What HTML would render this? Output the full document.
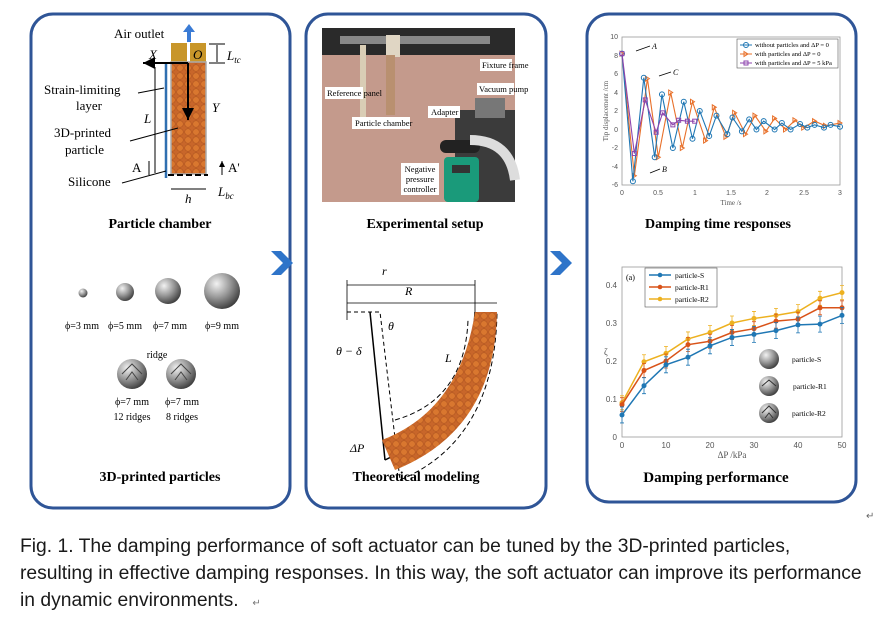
<!DOCTYPE html>
<html><head><meta charset="utf-8"><style>
body{margin:0;background:#fff;width:884px;height:622px;overflow:hidden;font-family:"Liberation Serif",serif}
svg{position:absolute;left:0;top:0}
.cap{position:absolute;left:20px;top:533px;font-family:"Liberation Sans",sans-serif;font-size:19.3px;line-height:27px;color:#1a1a1a;width:880px;white-space:nowrap}
</style></head><body>
<svg width="884" height="622" viewBox="0 0 884 622" font-family="Liberation Serif, serif">
<defs>
<radialGradient id="sph" cx="0.35" cy="0.3" r="0.75"><stop offset="0" stop-color="#f2f2f2"/><stop offset="0.5" stop-color="#9a9a9a"/><stop offset="1" stop-color="#3a3a3a"/></radialGradient>
<pattern id="dots" width="8" height="8" patternUnits="userSpaceOnUse"><rect width="8" height="8" fill="#c8662a"/><circle cx="4" cy="4" r="3.3" fill="#d9772f" stroke="#b0551f" stroke-width="0.6"/></pattern>
<marker id="ar" markerWidth="8" markerHeight="8" refX="6" refY="3" orient="auto"><path d="M0,0 L6,3 L0,6z" fill="#000"/></marker>
</defs>
<g fill="none" stroke="#2f5597" stroke-width="3">
<rect x="31" y="14" width="259" height="494" rx="22"/>
<rect x="306" y="14" width="240" height="494" rx="22"/>
<rect x="587" y="14" width="269" height="488" rx="22"/>
</g>
<path d="M271,251 h10 l12,12 l-12,12 h-10 l12,-12z" fill="#2e74c9"/>
<path d="M550,251 h10 l12,12 l-12,12 h-10 l12,-12z" fill="#2e74c9"/>

<text x="114" y="38" font-size="13">Air outlet</text>
<path d="M187,42 v-10 h-4 l6,-8 l6,8 h-4 v10z" fill="#3a7bd5"/>
<rect x="171" y="43" width="16" height="19" fill="#c8962a"/>
<rect x="190" y="43" width="16" height="19" fill="#c8962a"/>
<rect x="171" y="62" width="35" height="112" fill="url(#dots)" stroke="#aaa" stroke-width="1.5"/>
<line x1="166" y1="62" x2="166" y2="178" stroke="#2f6fb0" stroke-width="2.5"/>
<line x1="168" y1="175" x2="208" y2="175" stroke="#000" stroke-width="2" stroke-dasharray="6,3"/>
<text x="149" y="59" font-size="13" font-style="italic">X</text>
<text x="193" y="59" font-size="13" font-style="italic">O</text>
<path d="M188,63 H143" stroke="#000" stroke-width="2" marker-end="url(#ar)"/>
<path d="M188,63 V120" stroke="#000" stroke-width="2" marker-end="url(#ar)"/>
<text x="212" y="112" font-size="13" font-style="italic">Y</text>
<text x="227" y="60" font-size="13" font-style="italic">L<tspan font-size="9" dy="3">tc</tspan></text>
<line x1="209" y1="44" x2="225" y2="44" stroke="#000"/><line x1="209" y1="63" x2="225" y2="63" stroke="#000"/>
<line x1="217" y1="45" x2="217" y2="62" stroke="#000"/>
<line x1="155" y1="67" x2="155" y2="173" stroke="#000"/>
<text x="144" y="123" font-size="13" font-style="italic">L</text>
<text x="44" y="94" font-size="13">Strain-limiting</text>
<text x="76" y="110" font-size="13">layer</text>
<line x1="138" y1="93" x2="164" y2="88" stroke="#000"/>
<text x="54" y="137" font-size="13">3D-printed</text>
<text x="65" y="154" font-size="13">particle</text>
<line x1="130" y1="141" x2="178" y2="128" stroke="#000"/>
<text x="132" y="172" font-size="13">A</text>
<text x="228" y="172" font-size="13">A'</text>
<path d="M149,175 v-14 M222,175 v-14" stroke="#000" marker-end="url(#ar)"/>
<text x="68" y="186" font-size="13">Silicone</text>
<line x1="122" y1="183" x2="166" y2="171" stroke="#000"/>
<line x1="171" y1="189" x2="206" y2="189" stroke="#000"/>
<text x="185" y="203" font-size="13" font-style="italic">h</text>
<text x="218" y="196" font-size="13" font-style="italic">L<tspan font-size="9" dy="3">bc</tspan></text>
<text x="160" y="228" font-size="14" font-weight="bold" text-anchor="middle">Particle chamber</text>
<circle cx="83" cy="293" r="4.5" fill="url(#sph)"/>
<circle cx="125" cy="292" r="9" fill="url(#sph)"/>
<circle cx="168" cy="291" r="13" fill="url(#sph)"/>
<circle cx="222" cy="291" r="18" fill="url(#sph)"/>
<g font-size="10" text-anchor="middle"><text x="82" y="329">ϕ=3 mm</text><text x="125" y="329">ϕ=5 mm</text><text x="170" y="329">ϕ=7 mm</text><text x="222" y="329">ϕ=9 mm</text>
<text x="157" y="358">ridge</text>
<text x="132" y="405">ϕ=7 mm</text><text x="182" y="405">ϕ=7 mm</text>
<text x="132" y="420">12 ridges</text><text x="182" y="420">8 ridges</text></g>
<circle cx="132" cy="374" r="15" fill="url(#sph)"/><circle cx="181" cy="374" r="15" fill="url(#sph)"/>
<path d="M122,374 l10,-10 l10,10 M126,380 l6,-8 l6,8 M171,374 l10,-10 l10,10 M175,380 l6,-8 l6,8" stroke="#444" fill="none"/>
<text x="160" y="481" font-size="14" font-weight="bold" text-anchor="middle">3D-printed particles</text>

<rect x="322" y="28" width="193" height="174" fill="#c49a8c"/>
<rect x="322" y="28" width="193" height="27" fill="#2a2a2a"/>
<rect x="340" y="36" width="150" height="8" fill="#888"/>
<rect x="386" y="35" width="14" height="22" fill="#e0d6c4"/>
<rect x="386" y="55" width="9" height="60" fill="#b99070"/>
<rect x="360" y="45" width="6" height="82" fill="#d9cdb5"/>
<rect x="455" y="110" width="60" height="92" fill="#3b3b3b"/>
<rect x="440" y="140" width="40" height="13" rx="6" fill="#222"/>
<path d="M470,140 q40,0 45,40" stroke="#ddd" stroke-width="10" fill="none"/>
<rect x="444" y="157" width="35" height="45" rx="4" fill="#1a9a7a"/>
<rect x="452" y="165" width="18" height="8" fill="#333"/>
<rect x="475" y="98" width="30" height="20" fill="#777"/>
<g font-size="8.5"><rect x="480" y="59" width="32" height="12" fill="#fff"/><text x="482" y="68">Fixture frame</text>
<rect x="477" y="83" width="37" height="12" fill="#fff"/><text x="479" y="92">Vacuum pump</text>
<rect x="325" y="87" width="38" height="12" fill="#fff"/><text x="327" y="96">Reference panel</text>
<rect x="428" y="106" width="32" height="12" fill="#fff"/><text x="431" y="115">Adapter</text>
<rect x="352" y="117" width="58" height="12" fill="#fff"/><text x="355" y="126">Particle chamber</text>
<rect x="401" y="163" width="38" height="32" fill="#fff"/><text x="420" y="172" text-anchor="middle">Negative</text><text x="420" y="182" text-anchor="middle">pressure</text><text x="420" y="192" text-anchor="middle">controller</text></g>
<text x="425" y="228" font-size="14" font-weight="bold" text-anchor="middle">Experimental setup</text>

<g stroke="#000" fill="none">
<line x1="347" y1="285" x2="475" y2="285" stroke-width="0.8"/>
<line x1="347" y1="303" x2="497" y2="303" stroke-width="0.8"/>
<line x1="347" y1="280" x2="347" y2="320" stroke-width="0.8"/>
<line x1="475" y1="280" x2="475" y2="312" stroke-width="0.8"/>
<path d="M347,312 L380,312 L400,480" stroke-dasharray="4,3"/>
<path d="M370,312 L385,460" stroke-width="1.5"/>
<path d="M385,460 Q470,420 475,312" stroke-width="1.5"/>
<path d="M400,480 Q495,440 497,312" stroke-dasharray="5,3"/>
<path d="M395,420 Q465,400 468,320" stroke-dasharray="5,3"/>
</g>
<path d="M382,440 Q460,410 475,312 L497,312 Q495,430 395,470z" fill="url(#dots)"/>
<text x="382" y="275" font-size="12" font-style="italic">r</text>
<text x="405" y="295" font-size="12" font-style="italic">R</text>
<text x="388" y="330" font-size="12" font-style="italic">θ</text>
<text x="336" y="355" font-size="12" font-style="italic">θ − δ</text>
<text x="445" y="362" font-size="12" font-style="italic">L</text>
<text x="350" y="452" font-size="12" font-style="italic">ΔP</text>
<text x="416" y="481" font-size="14" font-weight="bold" text-anchor="middle">Theoretical modeling</text>

<rect x="622" y="37" width="218" height="148" fill="none" stroke="#999" stroke-width="0.8"/>
<g font-family="Liberation Sans, sans-serif" font-size="7" fill="#555">
<g text-anchor="end"><text x="618" y="39">10</text><text x="618" y="58">8</text><text x="618" y="76">6</text><text x="618" y="95">4</text><text x="618" y="113">2</text><text x="618" y="132">0</text><text x="618" y="150">-2</text><text x="618" y="169">-4</text><text x="618" y="187">-6</text></g>
<g text-anchor="middle"><text x="622" y="195">0</text><text x="658" y="195">0.5</text><text x="695" y="195">1</text><text x="731" y="195">1.5</text><text x="767" y="195">2</text><text x="804" y="195">2.5</text><text x="840" y="195">3</text></g>
<text x="731" y="205" text-anchor="middle" font-family="Liberation Serif,serif">Time /s</text>
<text transform="translate(608,111) rotate(-90)" text-anchor="middle" font-family="Liberation Serif,serif">Tip displacement /cm</text>
</g>
<g id="tc"></g>
<rect x="737" y="39" width="101" height="29" fill="#fff" stroke="#555" stroke-width="0.6"/>
<g font-size="6.5"><line x1="740" y1="45" x2="752" y2="45" stroke="#1f77b4"/><circle cx="746" cy="45" r="2.5" fill="none" stroke="#1f77b4"/><text x="755" y="47">without particles and ΔP = 0</text>
<line x1="740" y1="54" x2="752" y2="54" stroke="#e8702a"/><path d="M744,51.5 l4,2.5 l-4,2.5z" fill="none" stroke="#e8702a"/><text x="755" y="56">with particles and ΔP = 0</text>
<line x1="740" y1="63" x2="752" y2="63" stroke="#8e44ad"/><rect x="744" y="61" width="4" height="4" fill="none" stroke="#8e44ad"/><text x="755" y="65">with particles and ΔP = 5 kPa</text></g>
<g font-size="8" font-style="italic"><text x="652" y="49">A</text><text x="673" y="75">C</text><text x="662" y="172">B</text></g>
<path d="M650,46 l-14,5 M671,72 l-12,4 M660,169 l-10,4" stroke="#000" stroke-width="0.8"/>
<text x="718" y="228" font-size="14" font-weight="bold" text-anchor="middle">Damping time responses</text>

<rect x="622" y="267" width="220" height="170" fill="none" stroke="#999" stroke-width="0.8"/>
<g font-family="Liberation Sans, sans-serif" font-size="8" fill="#555">
<g text-anchor="end"><text x="617" y="440">0</text><text x="617" y="402">0.1</text><text x="617" y="364">0.2</text><text x="617" y="326">0.3</text><text x="617" y="288">0.4</text></g>
<g text-anchor="middle"><text x="622" y="448">0</text><text x="666" y="448">10</text><text x="710" y="448">20</text><text x="754" y="448">30</text><text x="798" y="448">40</text><text x="842" y="448">50</text></g>
<text x="732" y="458" text-anchor="middle" font-family="Liberation Serif,serif" font-size="9">ΔP /kPa</text>
<text x="604" y="355" font-family="Liberation Serif,serif" font-size="9">ζ</text>
</g>
<g id="dp"></g>
<rect x="645" y="268" width="72" height="39" fill="#fff" stroke="#555" stroke-width="0.6"/>
<text x="626" y="280" font-size="8">(a)</text>
<g font-size="7.5"><line x1="649" y1="275" x2="671" y2="275" stroke="#1f77b4" stroke-width="1.5"/><circle cx="660" cy="275" r="2.3" fill="#1f77b4"/><text x="675" y="278">particle-S</text>
<line x1="649" y1="287" x2="671" y2="287" stroke="#d95319" stroke-width="1.5"/><circle cx="660" cy="287" r="2.3" fill="#d95319"/><text x="675" y="290">particle-R1</text>
<line x1="649" y1="299" x2="671" y2="299" stroke="#edb120" stroke-width="1.5"/><circle cx="660" cy="299" r="2.3" fill="#edb120"/><text x="675" y="302">particle-R2</text></g>
<circle cx="769" cy="359" r="10" fill="url(#sph)"/><circle cx="769" cy="386" r="10" fill="url(#sph)"/><circle cx="769" cy="413" r="10" fill="url(#sph)"/>
<path d="M762,386 l7,-6 l7,6 M762,413 l7,-7 l7,7 M765,418 l4,-5 l4,5" stroke="#333" fill="none"/>
<g font-size="7.5"><text x="792" y="362">particle-S</text><text x="793" y="389">particle-R1</text><text x="792" y="416">particle-R2</text></g>
<text x="716" y="482" font-size="15" font-weight="bold" text-anchor="middle">Damping performance</text>
<text x="866" y="519" font-size="10" fill="#666">↵</text>
</svg>
<div class="cap">Fig. 1. The damping performance of soft actuator can be tuned by the 3D-printed particles,<br>resulting in effective damping responses. In this way, the soft actuator can improve its performance<br>in dynamic environments. <span style="font-size:10px;color:#777">&nbsp;&nbsp;&nbsp;↵</span></div>
<script>
var NS="http://www.w3.org/2000/svg";
function el(p,t,a){var e=document.createElementNS(NS,t);for(var k in a)e.setAttribute(k,a[k]);p.appendChild(e);return e;}
var tc=document.getElementById("tc");
function X(t){return 622+t*72.67}function Y(v){return 129.5-v*9.25}
var B=[[0,8.2],[.15,-5.6],[.3,5.6],[.45,-3],[.55,3.8],[.7,-2],[.85,3],[.97,-1],[1.07,2],[1.2,-.7],[1.3,1.5],[1.45,-.5],[1.52,1.3],[1.65,-.2],[1.75,1.1],[1.85,0],[1.95,.9],[2.1,0],[2.2,.7],[2.32,0],[2.45,.6],[2.55,.2],[2.65,.5],[2.78,.2],[2.87,.5],[3,.3]];
var O=[[0,8.2],[.17,-5],[.35,5.5],[.5,-3],[.67,4],[.83,-2],[.97,3],[1.15,-1.2],[1.27,2.4],[1.43,-.8],[1.55,1.8],[1.7,-.5],[1.83,1.5],[1.98,-.2],[2.1,1.2],[2.25,0],[2.38,1],[2.5,.2],[2.65,.9],[2.8,.4],[3,.7]];
var P=[[0,8.2],[.17,-2.6],[.32,3.2],[.47,-.3],[.56,1.8],[.7,.5],[.78,1],[.9,.9],[1,.9]];
function ser(d,c,m){var s="";d.forEach(function(p,i){s+=(i?"L":"M")+X(p[0])+","+Y(p[1]);});el(tc,"path",{d:s,stroke:c,fill:"none","stroke-width":1.1});
d.forEach(function(p){var x=X(p[0]),y=Y(p[1]);if(m=="o")el(tc,"circle",{cx:x,cy:y,r:2.5,fill:"none",stroke:c});else if(m=="t")el(tc,"path",{d:"M"+(x-2)+","+(y-2.5)+"l4,2.5l-4,2.5z",fill:"none",stroke:c});else el(tc,"rect",{x:x-2,y:y-2,width:4,height:4,fill:"none",stroke:c});});}
ser(O,"#e8702a","t");ser(B,"#1f77b4","o");ser(P,"#8e44ad","s");
var dp=document.getElementById("dp");
var S=[.058,.135,.19,.21,.24,.262,.27,.28,.295,.297,.32],R1=[.085,.175,.2,.243,.252,.275,.285,.305,.31,.34,.34],R2=[.09,.198,.22,.258,.275,.3,.312,.32,.33,.365,.38];
function ds(d,c,e){var s="";d.forEach(function(v,i){var x=622+i*22,y=437-v*380;s+=(i?"L":"M")+x+","+y;el(dp,"path",{d:"M"+x+","+(y-e)+"V"+(y+e)+"M"+(x-2)+","+(y-e)+"h4M"+(x-2)+","+(y+e)+"h4",stroke:c,"stroke-width":0.8});el(dp,"circle",{cx:x,cy:y,r:2.5,fill:c});});el(dp,"path",{d:s,stroke:c,fill:"none","stroke-width":1.5});}
ds(R2,"#edb120",7);ds(R1,"#d95319",7);ds(S,"#1f77b4",8);
</script>
</body></html>
